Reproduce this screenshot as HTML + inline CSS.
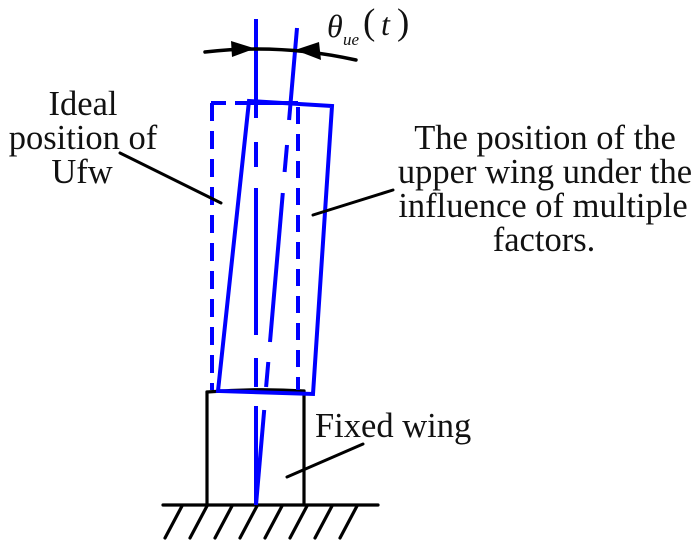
<!DOCTYPE html>
<html>
<head>
<meta charset="utf-8">
<style>
  html, body { margin: 0; padding: 0; background: #ffffff; }
  body { width: 700px; height: 547px; overflow: hidden; }
  svg { display: block; }
  .lbl { font-family: "Liberation Serif", "DejaVu Serif", serif; font-size: 34.5px; fill: #111; }
  .math { font-family: "Liberation Serif", "DejaVu Serif", serif; fill: #111; }
</style>
</head>
<body>
<svg width="700" height="547" viewBox="0 0 700 547" xmlns="http://www.w3.org/2000/svg">
  <!-- ground -->
  <g stroke="#000" stroke-width="3.2" stroke-linecap="round" fill="none">
    <line x1="163" y1="505" x2="378" y2="505"/>
    <line x1="182" y1="506" x2="165" y2="538"/>
    <line x1="207" y1="506" x2="190" y2="538"/>
    <line x1="232" y1="506" x2="215" y2="538"/>
    <line x1="257" y1="506" x2="240" y2="538"/>
    <line x1="282" y1="506" x2="265" y2="538"/>
    <line x1="307" y1="506" x2="290" y2="538"/>
    <line x1="332" y1="506" x2="315" y2="538"/>
    <line x1="357" y1="506" x2="340" y2="538"/>
  </g>

  <!-- fixed wing -->
  <g stroke="#000" stroke-width="3.2" fill="none" stroke-linecap="round">
    <line x1="207" y1="392" x2="207" y2="505"/>
    <line x1="304" y1="391" x2="304" y2="505"/>
    <path d="M207,392 Q255,388 304,391"/>
  </g>

  <!-- ideal (dashed) upper wing -->
  <g stroke="#0000ff" stroke-width="4" fill="none">
    <line x1="212" y1="103" x2="212" y2="390" stroke-dasharray="18 10"/>
    <line x1="298" y1="107" x2="298" y2="390" stroke-dasharray="17 10"/>
    <line x1="211" y1="103" x2="226" y2="103"/>
    <line x1="235" y1="103" x2="298" y2="103"/>
  </g>

  <!-- tilted upper wing -->
  <g stroke="#0000ff" stroke-width="4" fill="none" stroke-linejoin="miter">
    <polygon points="249,101 332,106 313,394 218,391"/>
  </g>

  <!-- vertical centerline (dash-dot) -->
  <g stroke="#0000ff" stroke-width="4" fill="none">
    <line x1="256" y1="19" x2="256" y2="118"/>
    <line x1="256" y1="142" x2="256" y2="167"/>
    <line x1="256" y1="188" x2="256" y2="335"/>
    <line x1="256" y1="358" x2="256" y2="387"/>
    <line x1="256" y1="406" x2="256" y2="505"/>
  </g>
  <!-- tilted centerline -->
  <g stroke="#0000ff" stroke-width="4" fill="none">
    <line x1="297" y1="28" x2="289.1" y2="120"/>
    <line x1="287" y1="145" x2="284.6" y2="172"/>
    <line x1="282.8" y1="193" x2="270" y2="342"/>
    <line x1="268.3" y1="362" x2="266.1" y2="387"/>
    <line x1="264.2" y1="410" x2="256" y2="505"/>
  </g>

  <!-- angle dimension arc with arrows -->
  <path d="M205,52 Q280.5,43.2 356,60" stroke="#000" stroke-width="3.5" fill="none" stroke-linecap="round"/>
  <polygon points="255,48.5 231,41 232,57" fill="#000"/>
  <polygon points="295,50 319,42 321,60" fill="#000"/>

  <!-- theta label -->
  <text class="math" x="327" y="37" font-size="32" font-style="italic">θ</text>
  <text class="math" x="343" y="45" font-size="17" font-style="italic">ue</text>
  <text class="math" x="363" y="34" font-size="37">(</text>
  <text class="math" x="381" y="35" font-size="32" font-style="italic">t</text>
  <text class="math" x="397" y="34" font-size="37">)</text>

  <!-- leader lines -->
  <g stroke="#000" stroke-width="3" stroke-linecap="round">
    <line x1="120" y1="153" x2="221" y2="203"/>
    <line x1="313" y1="215" x2="393" y2="190"/>
    <line x1="287" y1="477" x2="363" y2="444"/>
  </g>

  <!-- labels -->
  <text class="lbl" x="83" y="115" text-anchor="middle">Ideal</text>
  <text class="lbl" x="83" y="149" text-anchor="middle">position of</text>
  <text class="lbl" x="82" y="183" text-anchor="middle">Ufw</text>

  <text class="lbl" x="545" y="149" text-anchor="middle">The position of the</text>
  <text class="lbl" x="545" y="183" text-anchor="middle">upper wing under the</text>
  <text class="lbl" x="543" y="217" text-anchor="middle">influence of multiple</text>
  <text class="lbl" x="544" y="251" text-anchor="middle">factors.</text>

  <text class="lbl" x="315" y="437">Fixed wing</text>
</svg>
</body>
</html>
